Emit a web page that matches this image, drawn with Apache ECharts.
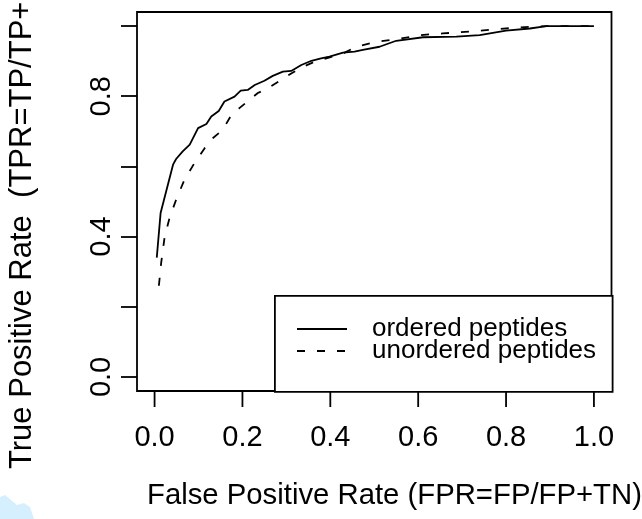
<!DOCTYPE html>
<html>
<head>
<meta charset="utf-8">
<script src="https://cdn.jsdelivr.net/npm/echarts@6/dist/echarts.min.js"></script>
<style>
html,body{margin:0;padding:0;background:#fff;}
#chart{width:642px;height:519px;}
</style>
</head>
<body>
<div id="chart"></div>
<script>
// ---- data ----
var orderedFPR = [0.005,0.0137,0.042,0.049,0.064,0.080,0.099,0.118,0.129,0.146,0.159,0.182,0.196,0.212,0.228,0.25,0.269,0.292,0.311,0.334,0.357,0.379,0.398,0.429,0.455,0.474,0.512,0.55,0.611,0.687,0.74,0.80,0.854,0.892,1.0];
var orderedTPR = [0.34,0.467,0.605,0.621,0.643,0.662,0.709,0.721,0.742,0.758,0.785,0.799,0.816,0.818,0.832,0.844,0.858,0.870,0.872,0.889,0.901,0.908,0.913,0.924,0.927,0.932,0.941,0.958,0.968,0.970,0.974,0.987,0.993,1.0,1.0];
var unorderedFPR = [0.0098,0.015,0.023,0.034,0.049,0.068,0.091,0.114,0.133,0.155,0.175,0.193,0.216,0.235,0.262,0.288,0.311,0.338,0.364,0.391,0.429,0.459,0.505,0.55,0.603,0.656,0.717,0.778,0.831,0.892,1.0];
var unorderedTPR = [0.26,0.325,0.40,0.453,0.505,0.562,0.610,0.652,0.681,0.704,0.747,0.766,0.79,0.809,0.826,0.846,0.865,0.884,0.898,0.908,0.922,0.941,0.955,0.962,0.974,0.979,0.984,0.991,0.996,1.0,1.0];
var seriesNames = ['ordered peptides','unordered peptides'];
var xTicks = [0,0.2,0.4,0.6,0.8,1.0];
var yTicks = [0,0.2,0.4,0.6,0.8,1.0];
var yLabels = [0,0.4,0.8];
var xTitle = 'False Positive Rate (FPR=FP/FP+TN)';
var yTitle = 'True Positive Rate  (TPR=TP/TP+FN)';

function pairs(xs, ys){ return xs.map(function(x,i){ return [x, ys[i]]; }); }

var FONT = 'Liberation Sans, Arial, Helvetica, sans-serif';
var DASH = [8,12];
var AXMIN = -0.04, AXMAX = 1.04, TICKLEN = 16;
var chart = echarts.init(document.getElementById('chart'), null, {renderer:'canvas'});
chart.setOption({
  animation:false,
  backgroundColor:'#ffffff',
  grid:{left:137, top:12, width:474.5, height:379, show:true, borderColor:'#000', borderWidth:1.8, backgroundColor:'transparent'},
  xAxis:{
    type:'value', min:AXMIN, max:AXMAX, position:'bottom',
    axisLine:{show:false, onZero:false},
    splitLine:{show:false},
    axisTick:{show:false},
    axisLabel:{customValues:xTicks, formatter:function(v){return v.toFixed(1);}, fontSize:29, fontFamily:FONT, color:'#000', margin:32}
  },
  yAxis:{
    type:'value', min:AXMIN, max:AXMAX, position:'left',
    axisLine:{show:false, onZero:false},
    splitLine:{show:false},
    axisTick:{show:true, inside:false, customValues:yTicks, length:TICKLEN, lineStyle:{color:'#000', width:1.8}},
    axisLabel:{customValues:yLabels, formatter:function(v){return v.toFixed(1);}, fontSize:29, fontFamily:FONT, color:'#000', rotate:90, margin:21}
  },
  series:[
    {name:seriesNames[0], type:'line', data:pairs(orderedFPR, orderedTPR), showSymbol:false, symbol:'none',
     lineStyle:{color:'#000', width:1.8, type:'solid'}, itemStyle:{color:'#000'}},
    {name:seriesNames[1], type:'line', data:pairs(unorderedFPR, unorderedTPR), showSymbol:false, symbol:'none',
     lineStyle:{color:'#000', width:1.8, type:DASH}, itemStyle:{color:'#000'}},
    {name:'xticks', type:'custom', silent:true, clip:false, z:20,
     data:xTicks.map(function(v){ return [v, AXMIN]; }),
     renderItem:function(params, api){
       var p = api.coord([api.value(0), api.value(1)]);
       return {type:'line', shape:{x1:p[0], y1:p[1], x2:p[0], y2:p[1] + TICKLEN}, style:{stroke:'#000', lineWidth:1.8}};
     }}
  ],
  graphic:[
    {type:'rect', left:274, top:295, shape:{width:337.7, height:96}, style:{fill:'#fff', stroke:'#000', lineWidth:1.8}, z:5},
    {type:'line', shape:{x1:297, y1:329, x2:347, y2:329}, style:{stroke:'#000', lineWidth:1.8}, z:6},
    {type:'line', shape:{x1:297, y1:351, x2:347, y2:351}, style:{stroke:'#000', lineWidth:1.8, lineDash:DASH}, z:6},
    {type:'text', x:372, y:329, style:{text:seriesNames[0], font:'26px '+FONT, fill:'#000', textAlign:'left', textVerticalAlign:'middle'}, z:6},
    {type:'text', x:372, y:351, style:{text:seriesNames[1], font:'26px '+FONT, fill:'#000', textAlign:'left', textVerticalAlign:'middle'}, z:6},
    {type:'text', x:147, y:496, style:{text:xTitle, font:'29.3px '+FONT, fill:'#000', textAlign:'left', textVerticalAlign:'middle'}},
    {type:'text', x:22, y:469, rotation:Math.PI/2, style:{text:yTitle, font:'31px '+FONT, fill:'#000', textAlign:'left', textVerticalAlign:'middle'}},
    {type:'polygon', shape:{points:[[0,497],[5,495],[17,505],[24,503],[30,507],[34,519],[0,519]]}, style:{fill:'#d5efff'}}
  ]
});
</script>
</body>
</html>
